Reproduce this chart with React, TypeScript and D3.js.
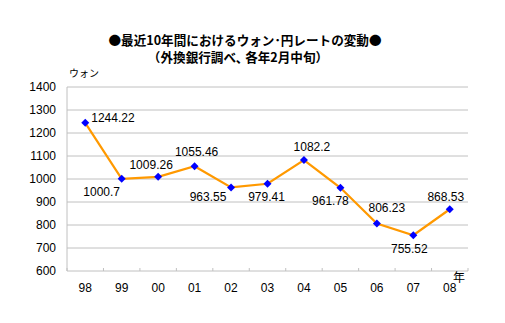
import React from "react";
import * as d3 from "d3";

const categories = ["98", "99", "00", "01", "02", "03", "04", "05", "06", "07", "08"];
const values = [1244.22, 1000.7, 1009.26, 1055.46, 963.55, 979.41, 1082.2, 961.78, 806.23, 755.52, 868.53];
const labels = ["1244.22", "1000.7", "1009.26", "1055.46", "963.55", "979.41", "1082.2", "961.78", "806.23", "755.52", "868.53"];
const yTicks = [600, 700, 800, 900, 1000, 1100, 1200, 1300, 1400];
// label placement offsets relative to point (styling)
const labelDx = [6, -20, -7, 2, -23, -1, 8, -10, 10, -4, -4];
const labelDy = [-5, 13, -12, -14, 9, 13, -13, 13, -16, 14, -12];
const labelAnchor = ["start", "middle", "middle", "middle", "middle", "middle", "middle", "middle", "middle", "middle", "middle"];

const W = 505, H = 323;
const left = 67, right = 468, top = 87, bottom = 271;

export default function App() {
  const x = d3.scaleBand<string>().domain(categories).range([left, right]);
  const y = d3.scaleLinear().domain([600, 1400]).range([bottom, top]);
  const line = d3.line<number>()
    .x((_, i) => x(categories[i])! + x.bandwidth() / 2)
    .y((d) => y(d));
  const font = "'Liberation Sans', Arial, sans-serif";
  const jp = "'Noto Sans CJK JP', sans-serif";
  const tickXs = categories.map((c) => x(c)!).concat([right]);
  return (
    <svg width={W} height={H} style={{ position: "absolute", left: 0, top: 0, background: "#fff" }}>
      <text x={245} y={44.5} textAnchor="middle" fontFamily={jp} fontWeight="bold" fontSize={12.6}>
        ●最近10年間におけるウォン･円レートの変動●
      </text>
      <text x={238} y={62} textAnchor="middle" fontFamily={jp} fontWeight="bold" fontSize={12.6}>
        （外換銀行調べ､ 各年2月中旬）
      </text>
      <text x={69} y={77} fontFamily={jp} fontSize={10}>ウォン</text>
      {yTicks.map((t) => (
        <g key={t}>
          <line x1={left} x2={right} y1={y(t)} y2={y(t)} stroke="#c0c0c0" strokeWidth={1} />
          <text x={56} y={y(t)} dy="0.35em" textAnchor="end" fontFamily={font} fontSize={12}>{t}</text>
        </g>
      ))}
      <line x1={left} x2={left} y1={top} y2={bottom} stroke="#c0c0c0" strokeWidth={1} />
      {tickXs.map((tx, i) => (
        <line key={i} x1={tx} x2={tx} y1={bottom - 3} y2={bottom} stroke="#c0c0c0" />
      ))}
      {categories.map((c) => (
        <text key={c} x={x(c)! + x.bandwidth() / 2} y={288} dy="0.35em" textAnchor="middle" fontFamily={font} fontSize={12}>{c}</text>
      ))}
      <text x={453} y={282} fontFamily={jp} fontSize={12}>年</text>
      <path d={line(values) || ""} fill="none" stroke="#FF9900" strokeWidth={2.2} />
      {values.map((v, i) => {
        const cx = x(categories[i])! + x.bandwidth() / 2;
        const cy = y(v);
        return (
          <path key={i} d={`M${cx},${cy - 4}L${cx + 4},${cy}L${cx},${cy + 4}L${cx - 4},${cy}Z`} fill="#0000FF" />
        );
      })}
      {values.map((v, i) => {
        const cx = x(categories[i])! + x.bandwidth() / 2;
        const cy = y(v);
        return (
          <text key={i} x={cx + labelDx[i]} y={cy + labelDy[i]} dy="0.35em" textAnchor={labelAnchor[i] as any} fontFamily={font} fontSize={12}>
            {labels[i]}
          </text>
        );
      })}
    </svg>
  );
}
